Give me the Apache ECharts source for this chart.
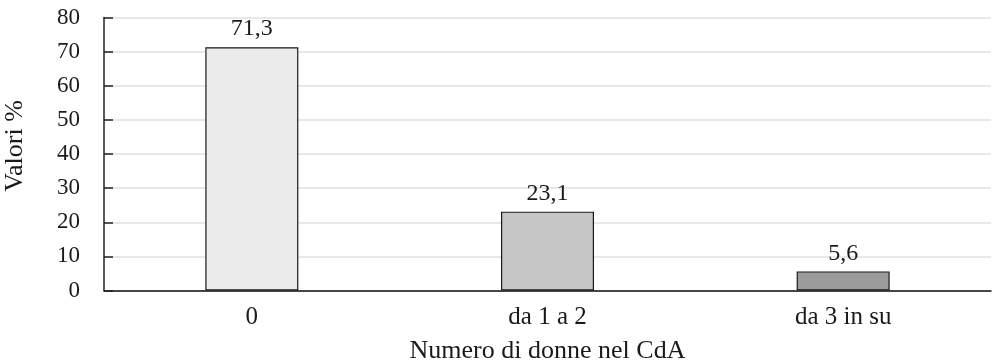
<!DOCTYPE html>
<html>
<head>
<meta charset="utf-8">
<script src="https://cdn.jsdelivr.net/npm/echarts@6/dist/echarts.min.js"></script>
<style>
  html, body { margin: 0; padding: 0; background: #fff; }
  #chart { width: 992px; height: 360px; }
</style>
</head>
<body>
<div id="chart"></div>
<script>
// Share of boards by number of women on the board (CdA)
const categories = ['0', 'da 1 a 2', 'da 3 in su'];
const values = [71.3, 23.1, 5.6];
const barColors = ['#ebebeb', '#c6c6c6', '#9c9c9c'];
const yTicks = { min: 0, max: 80, interval: 10 };

const FONT = '"Liberation Serif", "DejaVu Serif", serif';
const chart = echarts.init(document.getElementById('chart'), null, { renderer: 'canvas' });

chart.setOption({
  animation: false,
  grid: {
    left: 104, right: 1, top: 17.5, bottom: 69.5,
    containLabel: false,
    outerBoundsMode: 'none'
  },
  xAxis: {
    type: 'category',
    data: categories,
    name: 'Numero di donne nel CdA',
    nameLocation: 'middle',
    nameGap: 48,
    nameTextStyle: { fontFamily: FONT, fontSize: 26, color: '#1a1a1a' },
    axisLine: { lineStyle: { color: '#111', width: 1.5 } },
    axisTick: { show: false },
    axisLabel: { fontFamily: FONT, fontSize: 25, color: '#1a1a1a', margin: 14 }
  },
  yAxis: {
    type: 'value',
    min: yTicks.min,
    max: yTicks.max,
    interval: yTicks.interval,
    name: 'Valori %',
    nameLocation: 'middle',
    nameGap: 76,
    nameTextStyle: { fontFamily: FONT, fontSize: 26, color: '#1a1a1a', padding: [0, 0, 0, 16] },
    axisLine: { show: true, lineStyle: { color: '#222', width: 1.5 } },
    axisTick: { show: true, inside: true, length: 9, lineStyle: { color: '#222', width: 1.5 } },
    axisLabel: { fontFamily: FONT, fontSize: 23, color: '#1a1a1a', margin: 24,
      formatter: v => String(v) },
    splitLine: { lineStyle: { color: '#e0e0e0', width: 1.5 } }
  },
  series: [{
    type: 'bar',
    barWidth: 93,
    data: values.map((v, i) => ({
      value: v,
      itemStyle: { color: barColors[i], borderColor: '#1a1a1a', borderWidth: 1.2 }
    })),
    label: {
      show: true,
      position: 'top',
      distance: 6,
      fontFamily: FONT,
      fontSize: 24,
      color: '#1a1a1a',
      formatter: p => p.value.toFixed(1).replace('.', ',')
    }
  }]
});
</script>
</body>
</html>
